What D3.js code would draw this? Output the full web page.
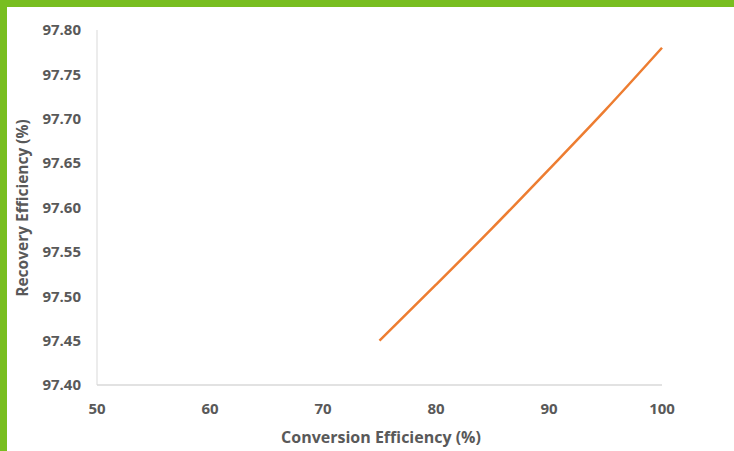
<!DOCTYPE html>
<html><head><meta charset="utf-8">
<script src="https://cdn.jsdelivr.net/npm/d3@7"></script>
<style>body{margin:0;background:#fff}svg{display:block}text{font-family:"Open Sans",sans-serif;font-weight:bold;fill:#595959}</style>
</head><body>
<script>
const xValues = [75, 80, 85, 90, 95, 100];
const yValues = [97.45, 97.513, 97.577, 97.643, 97.71, 97.78];
const xTicks = [50, 60, 70, 80, 90, 100];
const yTicks = [97.40, 97.45, 97.50, 97.55, 97.60, 97.65, 97.70, 97.75, 97.80];
const xTitle = "Conversion Efficiency (%)";
const yTitle = "Recovery Efficiency (%)";

const W = 734, H = 451;
const svg = d3.select("body").append("svg").attr("width", W).attr("height", H);
svg.append("rect").attr("x",0).attr("y",0).attr("width",W).attr("height",7).attr("fill","#78be20");
svg.append("rect").attr("x",0).attr("y",0).attr("width",7).attr("height",H).attr("fill","#78be20");

const x = d3.scaleLinear().domain([50,100]).range([97,662]);
const y = d3.scaleLinear().domain([97.40,97.80]).range([385,30]);

svg.append("line").attr("x1",97).attr("x2",97).attr("y1",30).attr("y2",385).attr("stroke","#d9d9d9").attr("stroke-width",1);
svg.append("line").attr("x1",97).attr("x2",662).attr("y1",385).attr("y2",385).attr("stroke","#d9d9d9").attr("stroke-width",1.5);

svg.selectAll(".yt").data(yTicks).enter().append("text")
  .attr("x",81).attr("y",d=>y(d)).attr("dy","0.35em").attr("text-anchor","end")
  .attr("font-size",15).text(d=>d.toFixed(2));
svg.selectAll(".xt").data(xTicks).enter().append("text")
  .attr("x",d=>x(d)).attr("y",414).attr("text-anchor","middle")
  .attr("font-size",15).text(d=>d);

svg.append("text").attr("x",381).attr("y",443).attr("text-anchor","middle").attr("font-size",16).text(xTitle);
svg.append("text").attr("transform","translate(28,208) rotate(-90)").attr("text-anchor","middle").attr("font-size",15.5).text(yTitle);

const line = d3.line().x((d,i)=>x(xValues[i])).y(d=>y(d)).curve(d3.curveMonotoneX);
svg.append("path").datum(yValues).attr("d",line).attr("fill","none").attr("stroke","#ed7d31").attr("stroke-width",2.5);
</script>
</body></html>
